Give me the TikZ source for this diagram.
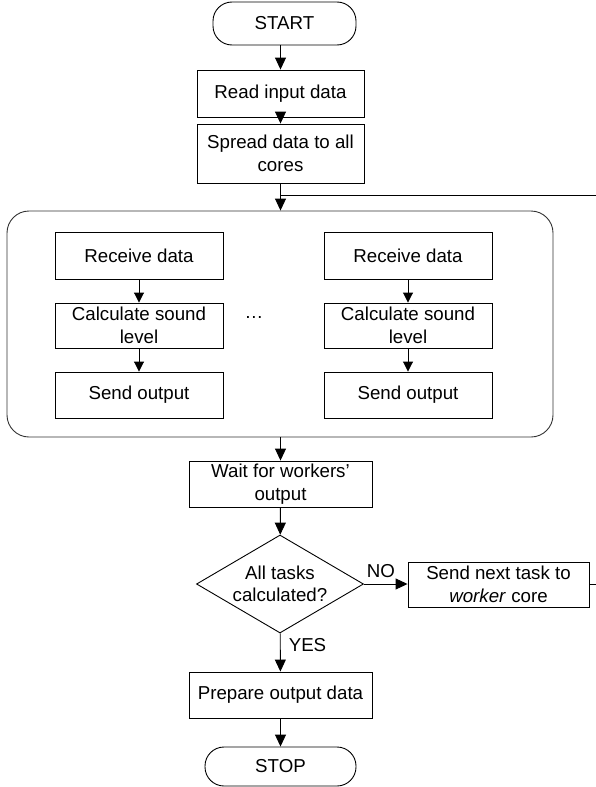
\documentclass[tikz,border=0pt]{standalone}
\usepackage{fontspec}
\setmainfont{Liberation Sans}
\usetikzlibrary{arrows.meta,shapes.geometric}
\begin{document}
\begin{tikzpicture}[x=1pt,y=-1pt,
  font=\fontsize{18.7}{22.5}\selectfont,
  line width=0.9pt,
  box/.style={draw, rectangle, align=center, inner sep=0pt},
  term/.style={draw, rectangle, rounded corners=19pt, align=center, inner sep=0pt},
  group/.style={draw=black!80, rectangle, rounded corners=22pt, inner sep=0pt},
  decide/.style={draw, diamond, aspect=1.7, inner sep=0pt, align=center},
  arr/.style={-{Triangle[length=12pt,width=11pt]}},
  arrs/.style={-{Triangle[length=10pt,width=10pt]}},
  lbl/.style={inner sep=0pt}]
\useasboundingbox (0,0) rectangle (596,787);
\node[term, minimum width=143pt, minimum height=43pt] (start) at (284.5,23.5) {START};
\node[box, minimum width=167pt, minimum height=47pt] (read) at (280.5,93.5) {Read input data};
\node[box, minimum width=167pt, minimum height=59pt] (spread) at (280.5,153.5) {Spread data to all\\cores};
\node[group, minimum width=546pt, minimum height=226pt] (grp) at (280,324) {};
\node[box, minimum width=168pt, minimum height=47pt] (recvA) at (139,255.5) {Receive data};
\node[box, minimum width=168pt, minimum height=45pt] (calcA) at (139,325.5) {Calculate sound\\level};
\node[box, minimum width=168pt, minimum height=46pt] (sendA) at (139,395) {Send output};
\node[box, minimum width=168pt, minimum height=47pt] (recvB) at (408,255.5) {Receive data};
\node[box, minimum width=168pt, minimum height=45pt] (calcB) at (408,325.5) {Calculate sound\\level};
\node[box, minimum width=168pt, minimum height=46pt] (sendB) at (408,395) {Send output};
\node[lbl] (dots) at (254,317) {…};
\node[box, minimum width=183pt, minimum height=46pt] (wait) at (280.5,484) {Wait for workers’\\output};
\node[decide, minimum width=167pt, minimum height=98pt] (all) at (280,584) {All tasks\\calculated?};
\node[box, minimum width=181pt, minimum height=45pt] (next) at (498.5,584.5) {Send next task to\\\textit{worker} core};
\node[lbl] (no) at (381,571) {NO};
\node[lbl] (yes) at (307.5,645) {YES};
\node[box, minimum width=183pt, minimum height=46pt] (prep) at (280.5,695) {Prepare output data};
\node[term, minimum width=151pt, minimum height=39pt] (stop) at (280.5,766.5) {STOP};
\coordinate (j) at (280.5,195);
\coordinate (rt) at (596,195);
\coordinate (rb) at (596,584);
\draw[arr] (start.south -| read.north) -- (read);
\draw[arr] (read) -- (spread);
\draw[arr] (spread.south) -- (spread.south |- grp.north);
\draw (rt) -- (j);
\draw[arrs] (recvA) -- (calcA);
\draw[arrs] (calcA) -- (sendA);
\draw[arrs] (recvB) -- (calcB);
\draw[arrs] (calcB) -- (sendB);
\draw[arr] (grp.south -| wait.north) -- (wait);
\draw[arr] (wait) -- (all);
\draw[arr] (all.east) -- (all.east -| next.west);
\draw (next.east |- rb) -- (rb);
\draw[arr] (all) -- (prep);
\draw[arr] (prep) -- (stop);
\end{tikzpicture}
\end{document}
